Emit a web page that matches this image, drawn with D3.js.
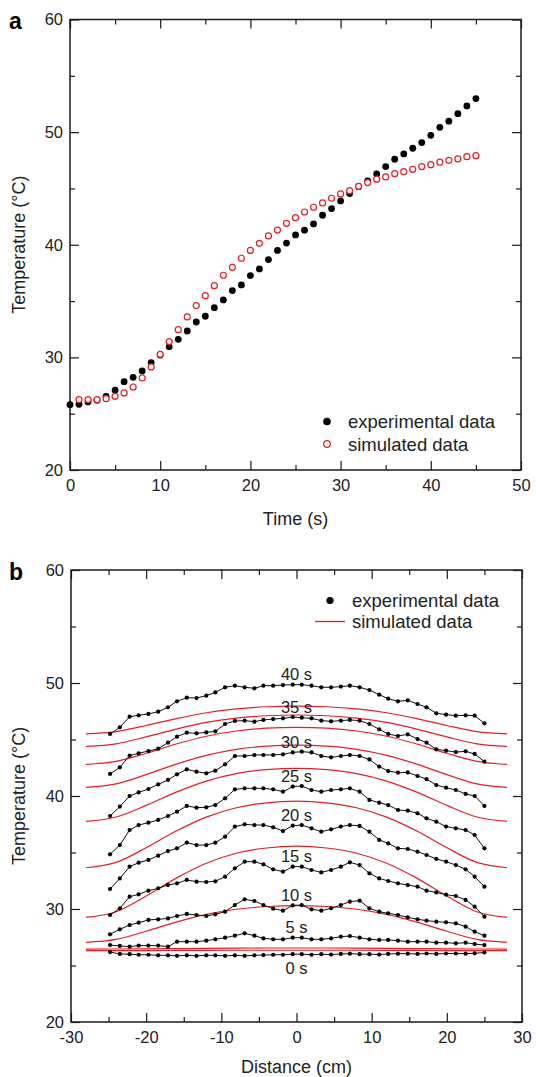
<!DOCTYPE html>
<html>
<head>
<meta charset="utf-8">
<script src="https://cdn.jsdelivr.net/npm/d3@7"></script>
<style>
  body { margin: 0; background: #fff; }
  svg text { font-family: Arial, "Liberation Sans", Helvetica, sans-serif; fill: #222; }
</style>
</head>
<body>
<svg id="chart" width="536" height="1077"></svg>
<script>

// ---------- panel a : temperature vs time ----------
const timeExp = [0,1,2,3,4,5,6,7,8,9,10,11,12,13,14,15,16,17,18,19,20,21,22,23,24,25,26,27,28,29,30,31,32,33,34,35,36,37,38,39,40,41,42,43,44,45]
const tempExp = [25.8,25.83,26.04,26.2,26.54,27.08,27.84,28.23,28.79,29.53,30.21,30.95,31.6,32.34,33.14,33.65,34.41,35.1,35.93,36.43,37.26,37.85,38.68,39.5,40.15,40.87,41.29,41.85,42.62,43.21,43.89,44.54,45.16,45.67,46.29,46.94,47.59,48.06,48.57,49.07,49.72,50.43,50.97,51.64,52.33,52.98]

const timeSim = [1,2,3,4,5,6,7,8,9,10,11,12,13,14,15,16,17,18,19,20,21,22,23,24,25,26,27,28,29,30,31,32,33,34,35,36,37,38,39,40,41,42,43,44,45]
const tempSim = [26.25,26.25,26.24,26.33,26.54,26.84,27.37,28.17,29.15,30.27,31.4,32.46,33.59,34.6,35.48,36.37,37.29,38.0,38.8,39.5,40.13,40.78,41.3,41.9,42.4,42.91,43.33,43.71,44.13,44.51,44.8,45.19,45.52,45.82,46.02,46.31,46.49,46.7,46.94,47.11,47.33,47.5,47.62,47.82,47.91]

const timeTicks = [0,10,20,30,40,50]
const timeMinor = [5,15,25,35,45]
const tempTicks = [20,30,40,50,60]
const tempMinor = [25,35,45,55]

// ---------- panel b : temperature profiles ----------
const distance = [-24.8,-23.5,-22.2,-21.0,-19.7,-18.4,-17.1,-15.9,-14.6,-13.3,-12.0,-10.8,-9.5,-8.2,-6.9,-5.6,-4.4,-3.1,-1.8,-0.5,0.7,2.0,3.3,4.6,5.9,7.1,8.4,9.7,11.0,12.2,13.5,14.8,16.1,17.3,18.6,19.9,21.2,22.5,23.7,25.0]

const exp40 = [45.49,46.08,47.02,47.14,47.26,47.46,47.85,48.38,48.70,48.67,48.88,49.17,49.62,49.76,49.62,49.53,49.76,49.76,49.82,49.85,49.85,49.76,49.62,49.62,49.68,49.76,49.62,49.38,48.97,48.61,48.38,48.47,48.14,47.85,47.32,47.20,47.11,47.14,47.11,46.43]
const exp35 = [41.95,42.54,43.57,43.78,43.98,44.19,44.72,45.25,45.60,45.55,45.63,45.72,46.37,46.64,46.67,46.58,46.73,46.81,46.87,46.99,46.93,46.87,46.67,46.61,46.67,46.73,46.67,46.37,45.90,45.49,45.31,45.46,45.04,44.72,44.13,44.01,43.89,43.95,43.72,43.04]
const exp30 = [38.23,39.06,40.00,40.32,40.62,41.03,41.42,41.92,42.36,42.15,42.01,42.24,42.80,43.54,43.54,43.63,43.63,43.63,43.69,43.86,43.92,43.86,43.54,43.42,43.54,43.63,43.54,43.24,42.60,42.21,42.06,42.09,41.77,41.50,40.97,40.74,40.53,40.18,40.00,39.12]
const exp25 = [34.84,35.66,36.99,37.43,37.64,37.88,38.23,38.61,39.12,38.97,39.00,39.20,39.79,40.59,40.68,40.68,40.68,40.59,40.38,40.83,40.88,40.53,40.38,40.53,40.59,40.68,40.38,39.65,39.41,39.20,38.76,38.70,38.47,38.02,37.73,37.29,37.14,36.99,36.55,35.37]
const exp20 = [31.77,32.71,33.75,34.10,34.34,34.72,35.13,35.37,35.87,35.66,35.66,35.87,36.40,37.29,37.49,37.43,37.43,37.23,36.90,37.37,37.43,37.14,36.84,37.05,37.29,37.43,37.35,36.84,36.11,35.81,35.37,35.31,35.07,34.78,34.43,34.19,33.89,33.51,32.86,31.98]
const exp15 = [29.47,30.06,31.09,31.30,31.62,31.83,32.12,32.27,32.57,32.42,32.39,32.45,32.86,33.60,34.19,34.19,33.95,33.51,33.30,33.75,33.75,33.45,33.24,33.45,33.75,34.13,33.89,33.16,32.71,32.48,32.27,32.12,31.98,31.62,31.47,31.27,31.15,30.80,30.21,29.32]
const exp10 = [27.76,28.20,28.58,28.79,29.03,29.09,29.17,29.38,29.56,29.47,29.38,29.53,29.76,30.35,30.86,30.71,30.35,30.03,29.85,30.32,30.35,29.97,29.85,30.06,30.35,30.65,30.74,30.06,29.76,29.62,29.47,29.26,29.09,28.97,28.88,28.82,28.73,28.44,27.99,27.64]
const exp5 = [26.81,26.73,26.67,26.76,26.76,26.76,26.67,27.11,27.11,27.11,27.20,27.32,27.46,27.64,27.85,27.64,27.40,27.32,27.32,27.46,27.46,27.32,27.32,27.40,27.55,27.61,27.46,27.32,27.26,27.26,27.20,27.11,27.11,27.11,27.02,27.02,26.96,27.02,26.90,26.81]
const exp0 = [26.19,26.02,26.00,25.95,25.95,25.90,25.90,25.86,25.90,25.86,25.90,25.90,25.86,25.90,25.86,25.90,25.92,25.95,25.95,26.00,26.00,25.95,26.00,25.97,26.02,26.05,26.00,26.00,25.97,26.02,26.05,26.05,26.02,26.06,26.02,26.06,26.06,26.05,26.08,26.15]

const expLabels = ["40 s","35 s","30 s","25 s","20 s","15 s","10 s","5 s","0 s"]

const simDistance = [-28,-24,-20,-16,-12,-8,-4,0,4,8,12,16,20,24,28]
const sim0  = [26.32,26.32,26.32,26.33,26.34,26.35,26.35,26.35,26.35,26.35,26.34,26.33,26.32,26.32,26.32]
const sim5  = [26.45,26.46,26.48,26.50,26.52,26.54,26.55,26.55,26.55,26.54,26.52,26.50,26.48,26.46,26.45]
const sim10 = [27.05,27.31,28.03,28.84,29.52,29.98,30.22,30.30,30.22,29.98,29.52,28.84,28.03,27.31,27.05]
const sim15 = [29.26,29.76,31.15,32.73,34.05,34.93,35.40,35.56,35.40,34.93,34.05,32.73,31.15,29.76,29.26]
const sim20 = [33.65,34.12,35.42,36.90,38.13,38.96,39.40,39.55,39.40,38.96,38.13,36.90,35.42,34.12,33.65]
const sim25 = [37.76,38.14,39.17,40.34,41.32,41.98,42.33,42.45,42.33,41.98,41.32,40.34,39.17,38.14,37.76]
const sim30 = [40.77,41.07,41.89,42.82,43.60,44.13,44.41,44.50,44.41,44.13,43.60,42.82,41.89,41.07,40.77]
const sim35 = [42.80,43.06,43.78,44.60,45.29,45.75,46.00,46.08,46.00,45.75,45.29,44.60,43.78,43.06,42.80]
const sim40 = [44.40,44.62,45.23,45.92,46.51,46.89,47.10,47.17,47.10,46.89,46.51,45.92,45.23,44.62,44.40]
const sim45 = [45.50,45.70,46.24,46.85,47.37,47.71,47.90,47.96,47.90,47.71,47.37,46.85,46.24,45.70,45.50]

const distTicks = [-30,-20,-10,0,10,20,30]
const distMinor = [-25,-15,-5,5,15,25]


const red = "#e41e26"
const ink = "#1a1a1a"

const svg = d3.select("#chart")

// axes with inward ticks on all four sides
function drawFrame (g, x, y, xMajor, xMinor, yMajor, yMinor) {
  const [x0, x1] = x.range()
  const [y0, y1] = y.range()   // y0 bottom, y1 top
  const fmt = d => String(d)

  g.append("g").attr("transform", `translate(0,${y0})`)
    .call(d3.axisBottom(x).tickValues(xMajor).tickSizeInner(-9).tickSizeOuter(0).tickPadding(9).tickFormat(fmt))
  g.append("g").attr("transform", `translate(0,${y0})`)
    .call(d3.axisBottom(x).tickValues(xMinor).tickSize(-5).tickFormat(""))
  g.append("g").attr("transform", `translate(0,${y1})`)
    .call(d3.axisTop(x).tickValues(xMajor).tickSize(-9).tickFormat(""))
  g.append("g").attr("transform", `translate(0,${y1})`)
    .call(d3.axisTop(x).tickValues(xMinor).tickSize(-5).tickFormat(""))

  g.append("g").attr("transform", `translate(${x0},0)`)
    .call(d3.axisLeft(y).tickValues(yMajor).tickSizeInner(-9).tickSizeOuter(0).tickPadding(7).tickFormat(fmt))
  g.append("g").attr("transform", `translate(${x0},0)`)
    .call(d3.axisLeft(y).tickValues(yMinor).tickSize(-5).tickFormat(""))
  g.append("g").attr("transform", `translate(${x1},0)`)
    .call(d3.axisRight(y).tickValues(yMajor).tickSize(-9).tickFormat(""))
  g.append("g").attr("transform", `translate(${x1},0)`)
    .call(d3.axisRight(y).tickValues(yMinor).tickSize(-5).tickFormat(""))

  g.selectAll(".domain").remove()
  g.selectAll(".tick line").attr("stroke", ink).attr("stroke-width", 1.2)
  g.selectAll(".tick text").attr("font-size", 16.5).attr("font-family", null).style("fill", "#222")

  g.append("rect")
    .attr("x", x0).attr("y", y1)
    .attr("width", x1 - x0).attr("height", y0 - y1)
    .attr("fill", "none").attr("stroke", ink).attr("stroke-width", 1.5)
}


// ---------------- panel a ----------------
const xa = d3.scaleLinear().domain([0, 50]).range([70, 521])
const ya = d3.scaleLinear().domain([20, 60]).range([470, 19.5])

const ga = svg.append("g")
drawFrame(ga, xa, ya, timeTicks, timeMinor, tempTicks, tempMinor)

ga.append("g").selectAll("circle")
  .data(timeExp.map((t, i) => [t, tempExp[i]]))
  .join("circle")
  .attr("cx", d => xa(d[0]))
  .attr("cy", d => ya(d[1]))
  .attr("r", 3.4)
  .attr("fill", "#000")

ga.append("g").selectAll("circle")
  .data(timeSim.map((t, i) => [t, tempSim[i]]))
  .join("circle")
  .attr("cx", d => xa(d[0]))
  .attr("cy", d => ya(d[1]))
  .attr("r", 3)
  .attr("fill", "#fff")
  .attr("stroke", red)
  .attr("stroke-width", 1.2)

// legend a
ga.append("circle").attr("cx", 327).attr("cy", 421.5).attr("r", 3.8).attr("fill", "#000")
ga.append("text").attr("x", 348).attr("y", 428).attr("font-size", 18.5).text("experimental data")
ga.append("circle").attr("cx", 327).attr("cy", 444).attr("r", 3.3)
  .attr("fill", "#fff").attr("stroke", red).attr("stroke-width", 1.2)
ga.append("text").attr("x", 348).attr("y", 450.5).attr("font-size", 18.5).text("simulated data")

ga.append("text").attr("x", 295.5).attr("y", 525).attr("text-anchor", "middle")
  .attr("font-size", 18).text("Time (s)")
ga.append("text").attr("transform", `translate(25,${(470 + 19.5) / 2}) rotate(-90)`)
  .attr("text-anchor", "middle").attr("font-size", 18).text("Temperature (°C)")
ga.append("text").attr("x", 9).attr("y", 29).attr("font-size", 23).attr("font-weight", "bold")
  .style("fill", "#000").text("a")


// ---------------- panel b ----------------
const xb = d3.scaleLinear().domain([-30, 30]).range([71, 522])
const yb = d3.scaleLinear().domain([20, 60]).range([1022, 570])

const gb = svg.append("g")
drawFrame(gb, xb, yb, distTicks, distMinor, tempTicks, tempMinor)

const simSeries = [sim0, sim5, sim10, sim15, sim20, sim25, sim30, sim35, sim40, sim45]
const expSeries = [exp40, exp35, exp30, exp25, exp20, exp15, exp10, exp5, exp0]

const simLine = d3.line()
  .x(d => xb(d[0]))
  .y(d => yb(d[1]))
  .curve(d3.curveMonotoneX)

gb.append("g").selectAll("path")
  .data(simSeries.map(s => simDistance.map((d, i) => [d, s[i]])))
  .join("path")
  .attr("d", simLine)
  .attr("fill", "none")
  .attr("stroke", red)
  .attr("stroke-width", 1.2)

const expLine = d3.line()
  .x(d => xb(d[0]))
  .y(d => yb(d[1]))

const expG = gb.append("g").selectAll("g")
  .data(expSeries.map(s => distance.map((d, i) => [d, s[i]])))
  .join("g")

expG.append("path")
  .attr("d", expLine)
  .attr("fill", "none")
  .attr("stroke", "#111")
  .attr("stroke-width", 1)

expG.selectAll("circle")
  .data(d => d)
  .join("circle")
  .attr("cx", d => xb(d[0]))
  .attr("cy", d => yb(d[1]))
  .attr("r", 2.1)
  .attr("fill", "#000")

// time labels, placed just above each profile at its centre (0 s below)
gb.append("g").selectAll("text")
  .data(expSeries.map((s, i) => ({ label: expLabels[i], mid: (s[19] + s[20]) / 2 })))
  .join("text")
  .attr("x", xb(0))
  .attr("y", d => d.label === "0 s" ? yb(d.mid) + 19.5 : yb(d.mid) - 4.5)
  .attr("text-anchor", "middle")
  .attr("font-size", 16.5)
  .text(d => d.label)

// legend b
gb.append("circle").attr("cx", 330).attr("cy", 600.5).attr("r", 3.6).attr("fill", "#000")
gb.append("text").attr("x", 352).attr("y", 607).attr("font-size", 18.5).text("experimental data")
gb.append("line").attr("x1", 315).attr("x2", 345).attr("y1", 621.5).attr("y2", 621.5)
  .attr("stroke", red).attr("stroke-width", 1.3)
gb.append("text").attr("x", 352).attr("y", 628).attr("font-size", 18.5).text("simulated data")

gb.append("text").attr("x", 296.5).attr("y", 1073).attr("text-anchor", "middle")
  .attr("font-size", 18).text("Distance (cm)")
gb.append("text").attr("transform", `translate(25,${(1022 + 570) / 2}) rotate(-90)`)
  .attr("text-anchor", "middle").attr("font-size", 18).text("Temperature (°C)")
gb.append("text").attr("x", 9).attr("y", 580).attr("font-size", 23).attr("font-weight", "bold")
  .style("fill", "#000").text("b")

</script>
</body>
</html>
